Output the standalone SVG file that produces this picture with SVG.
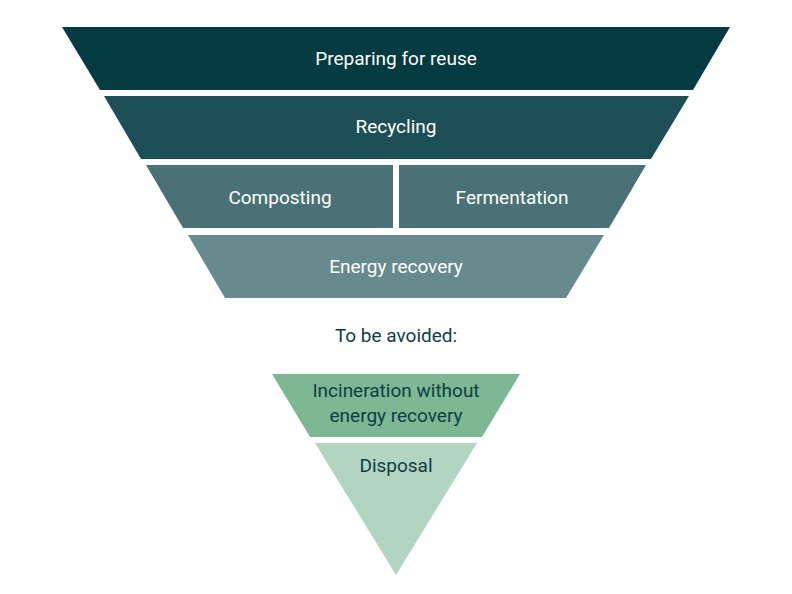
<svg xmlns="http://www.w3.org/2000/svg" width="792" height="594" viewBox="0 0 792 594">
<style>
text{font-family:Roboto,"Liberation Sans",sans-serif;font-size:19px;text-anchor:middle}
.w{fill:#ffffff}.d{fill:#0e3e44}
</style>
<rect width="792" height="594" fill="#ffffff"/>
<g id="reuse"><polygon points="62,27 730,27 693,90 100,90" fill="#033b41"/><text class="w" x="396" y="65">Preparing for reuse</text></g>
<g id="recycling"><polygon points="104,96 689,96 651,159 141,159" fill="#1c5056"/><text class="w" x="396" y="133">Recycling</text></g>
<g id="composting"><polygon points="146,165 393,165 393,228 183,228" fill="#4a7276"/><text class="w" x="280" y="204">Composting</text></g>
<g id="fermentation"><polygon points="399,165 646,165 609,228 399,228" fill="#4a7276"/><text class="w" x="512" y="204">Fermentation</text></g>
<g id="energy"><polygon points="188,235 604,235 566,298 225,298" fill="#678a8d"/><text class="w" x="396" y="273">Energy recovery</text></g>
<text class="d" x="396" y="342">To be avoided:</text>
<g id="incineration"><polygon points="272,374 520,374 482,437 310,437" fill="#7cb893"/><text class="d" x="396" y="397">Incineration without</text><text class="d" x="396" y="422">energy recovery</text></g>
<g id="disposal"><polygon points="315,443 477,443 396,575" fill="#b2d5c2"/><text class="d" x="396" y="472">Disposal</text></g>
<g id="connectors"/>
</svg>
